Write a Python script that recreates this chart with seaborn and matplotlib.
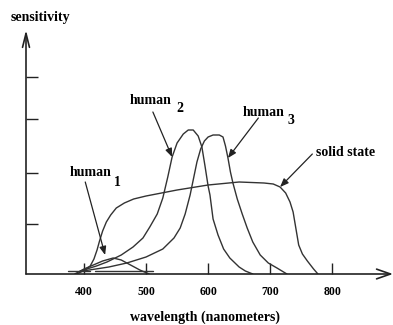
import matplotlib
matplotlib.use("Agg")
import matplotlib.pyplot as plt
import seaborn as sns
import pandas as pd

# ---- data (sensitivity in arbitrary units) ----
human1_wl = [385, 400, 415, 430, 447, 460, 475, 490, 505]
human1_s = [0, 5, 9, 13, 16, 14, 9, 4, 0]

human2_wl = [394, 420, 437, 460, 479, 495, 506, 518, 527, 535, 542, 550, 560, 568, 576,
             584, 590, 595, 600, 603, 608, 616, 625, 635, 650, 660, 672]
human2_s = [3, 8, 12, 19, 27, 36, 47, 60, 76, 97, 117, 131, 140, 144, 144,
            138, 127, 108, 88, 79, 55, 39, 25, 16, 7, 3, 0]

human3_wl = [398, 440, 469, 500, 527, 545, 555, 563, 571, 577, 582, 588, 594, 600, 608,
             618, 624, 628, 632, 636, 640, 647, 655, 663, 672, 684, 697, 711, 727]
human3_s = [3, 7, 11, 17, 25, 36, 46, 60, 79, 97, 112, 125, 133, 137, 139,
            139, 137, 128, 116, 102, 91, 75, 60, 46, 32, 19, 11, 6, 0]

solid_wl = [388, 402, 410, 416, 421, 425, 430, 436, 443, 452, 465, 480, 500, 550, 600,
            650, 690, 705, 716, 725, 732, 737, 740, 743, 746, 752, 760, 770, 777]
solid_s = [0, 4, 8, 15, 24, 33, 43, 52, 59, 66, 71, 75, 78, 84, 89,
           92, 91, 90, 87, 81, 72, 62, 51, 40, 29, 20, 13, 5, 0]

base1_wl = [374, 410]
base2_wl = [418, 511]
base_s = [3, 3]

x_ticks = [400, 500, 600, 700, 800]
x_tick_labels = ["400", "500", "600", "700", "800"]
y_ticks = [50, 101, 155, 197]

# ---- build long table ----
frames = []
for name, wl, s in [("human 1", human1_wl, human1_s), ("human 2", human2_wl, human2_s),
                    ("human 3", human3_wl, human3_s), ("solid state", solid_wl, solid_s),
                    ("base a", base1_wl, base_s), ("base b", base2_wl, base_s)]:
    frames.append(pd.DataFrame({"wavelength": wl, "sensitivity": s, "curve": name}))
df = pd.concat(frames, ignore_index=True)

sns.set_style("white")
plt.rcParams["font.family"] = ["Liberation Serif", "DejaVu Serif"]
plt.rcParams["font.weight"] = "bold"
plt.rcParams["text.color"] = "black"
plt.rcParams["xtick.color"] = "black"

fig = plt.figure(figsize=(3.93, 3.25), dpi=100)
ax = fig.add_axes([26 / 393, 51 / 325, 367 / 393, 244 / 325])

line_col = "#333333"
sns.lineplot(data=df, x="wavelength", y="sensitivity", units="curve", estimator=None,
             sort=False, color=line_col, lw=1.0, ax=ax)

ax.set_xlim(306.5, 898)
ax.set_ylim(0, 244)
for sp in ax.spines.values():
    sp.set_visible(False)

# axes with arrows
ax.annotate("", xy=(1.0, 0), xytext=(0, 0), xycoords="axes fraction",
            arrowprops=dict(arrowstyle="->,head_length=1.0,head_width=0.35", lw=1.2,
                            color="#222222", shrinkA=0, shrinkB=0))
ax.annotate("", xy=(0, 1.0), xytext=(0, 0), xycoords="axes fraction",
            arrowprops=dict(arrowstyle="->,head_length=1.0,head_width=0.25", lw=1.2,
                            color="#222222", shrinkA=0, shrinkB=0))

ax.set_xticks(x_ticks)
ax.set_xticklabels(x_tick_labels, fontsize=8.5, fontweight="bold", color="black")
ax.set_yticks(y_ticks)
ax.set_yticklabels([])
ax.tick_params(axis="x", direction="in", length=8, width=1, color="#222222", pad=8.5,
               bottom=True)
ax.tick_params(axis="y", direction="in", length=8.5, width=1, color="#222222", left=True)
ax.set_xlabel("")
ax.set_ylabel("")

fig.text(40 / 393, 1 - 18 / 325, "sensitivity", ha="center", va="center",
         fontsize=10, fontweight="bold", color="black")
fig.text(205 / 393, 1 - 317 / 325, "wavelength (nanometers)", ha="center", va="center",
         fontsize=10, fontweight="bold", color="black")

arrow_kw = dict(arrowstyle="-|>,head_length=0.5,head_width=0.2", lw=0.9, color="#222222",
                shrinkA=0, shrinkB=0)
labels = [
    # label, text pos, subscript, sub pos, arrow start, arrow tip
    ("human", (410, 101), "1", (453, 92), (402, 92), (434, 19)),
    ("human", (508, 173), "2", (555, 165), (511, 162), (542, 117)),
    ("human", (689, 162), "3", (734, 153), (681, 156), (632, 116)),
]
for txt, tp, sub, sp, a0, a1 in labels:
    ax.text(tp[0], tp[1], txt, ha="center", va="center", fontsize=10, fontweight="bold",
            color="black")
    ax.text(sp[0], sp[1], sub, ha="center", va="center", fontsize=10, fontweight="bold",
            color="black")
    ax.annotate("", xy=a1, xytext=a0, arrowprops=arrow_kw)

ax.text(821, 122, "solid state", ha="center", va="center", fontsize=10, fontweight="bold",
        color="black")
ax.annotate("", xy=(716, 87), xytext=(768, 120), arrowprops=arrow_kw)

fig.savefig("out.png", dpi=100)
